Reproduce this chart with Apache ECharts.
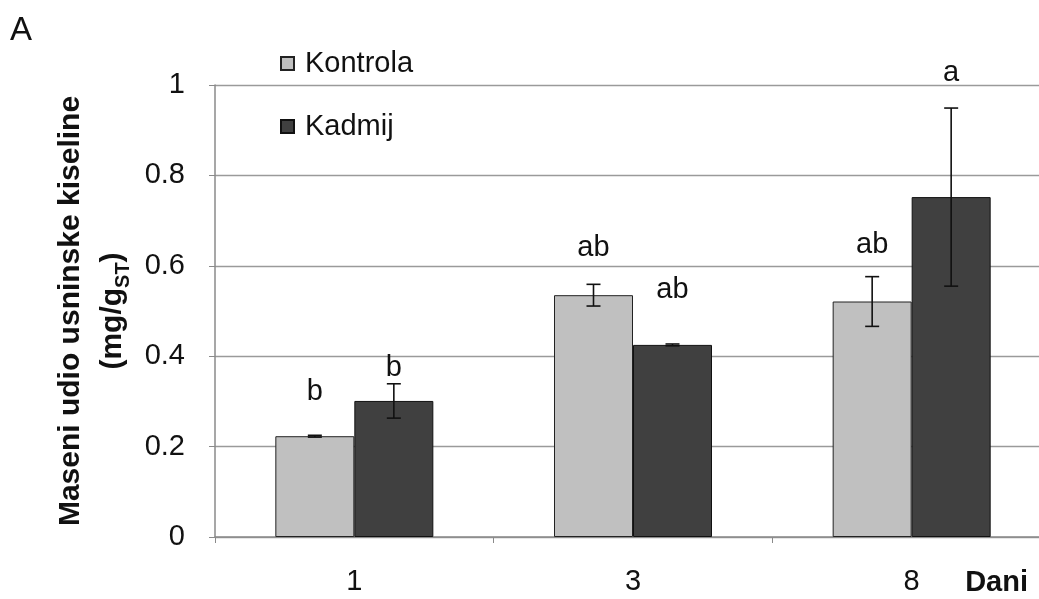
<!DOCTYPE html>
<html><head><meta charset="utf-8">
<script src="https://cdn.jsdelivr.net/npm/echarts@6/dist/echarts.min.js"></script>
<style>html,body{margin:0;padding:0;background:#fff;overflow:hidden}#c{width:1051px;height:599px}</style>
</head><body><div id="c"></div>
<script>
const days = ['1', '3', '8'];
const kontrola = [0.223, 0.535, 0.521];
const kontrolaErr = [0.002, 0.024, 0.055];
const kadmij = [0.301, 0.425, 0.752];
const kadmijErr = [0.038, 0.002, 0.197];
const kontrolaLetters = ['b', 'ab', 'ab'];
const kadmijLetters = ['b', 'ab', 'a'];
const kontrolaLetterY = [0.321, 0.639, 0.646];
const kadmijLetterY = [0.374, 0.546, 1.027];
const yTicks = [0, 0.2, 0.4, 0.6, 0.8, 1];

const BAR_W = 79;
const FONT = '"Liberation Sans", Arial, sans-serif';

function errRender(values, errs, dir) {
  return function (params, api) {
    const i = api.value(0);
    const v = values[i], e = errs[i];
    const base = api.coord([i, v]);
    const x = base[0] + dir * BAR_W / 2;
    const top = api.coord([i, v + e])[1];
    const bot = api.coord([i, v - e])[1];
    const cap = 7;
    const st = { stroke: '#111', lineWidth: 1.6 };
    return { type: 'group', children: [
      { type: 'line', shape: { x1: x, y1: top, x2: x, y2: bot }, style: st },
      { type: 'line', shape: { x1: x - cap, y1: top, x2: x + cap, y2: top }, style: st },
      { type: 'line', shape: { x1: x - cap, y1: bot, x2: x + cap, y2: bot }, style: st }
    ]};
  };
}
function letterRender(letters, ys, dir) {
  return function (params, api) {
    const i = api.value(0);
    const p = api.coord([i, ys[i]]);
    return { type: 'text', x: p[0] + dir * BAR_W / 2, y: p[1],
      style: { text: letters[i], font: '29px ' + FONT, fill: '#111', align: 'center', verticalAlign: 'middle' } };
  };
}

const chart = echarts.init(document.getElementById('c'));
chart.setOption({
  animation: false,
  backgroundColor: '#fff',
  title: { text: 'A', left: 5, top: 9, textStyle: { fontFamily: FONT, fontSize: 33, fontWeight: 'normal', color: '#111' } },
  legend: {
    orient: 'vertical', left: 275, top: 44, itemGap: 34,
    itemWidth: 13, itemHeight: 13, icon: 'rect',
    textStyle: { fontFamily: FONT, fontSize: 29, color: '#111', padding: [0, 0, 0, 6] },
    data: ['Kontrola', 'Kadmij']
  },
  grid: { left: 215, top: 85, right: 0, bottom: 62, containLabel: false },
  xAxis: {
    type: 'category', data: days,
    axisLine: { lineStyle: { color: '#8a8a8a', width: 1.5 } },
    axisTick: { show: true, length: 6, lineStyle: { color: '#8a8a8a' } },
    axisLabel: { fontFamily: FONT, fontSize: 29, color: '#111', margin: 30 },
    name: 'Dani', nameLocation: 'end', nameGap: -23,
    nameTextStyle: { fontFamily: FONT, fontSize: 29, fontWeight: 'bold', color: '#111', align: 'right', verticalAlign: 'top', padding: [31, 0, 0, 0] }
  },
  yAxis: {
    type: 'value', min: 0, max: 1, interval: 0.2,
    axisLine: { show: true, lineStyle: { color: '#8a8a8a', width: 1.5 } },
    axisTick: { show: true, length: 6, lineStyle: { color: '#8a8a8a' } },
    splitLine: { lineStyle: { color: '#9a9a9a', width: 1.3 } },
    axisLabel: { fontFamily: FONT, fontSize: 29, color: '#111', margin: 30,
      formatter: v => { const t = yTicks.find(x => Math.abs(x - v) < 1e-9); return t === undefined ? '' : String(t); } },
    name: 'Maseni udio usninske kiseline\n(mg/g{sub|ST})',
    nameLocation: 'middle', nameGap: 79, nameRotate: 90,
    nameTextStyle: { fontFamily: FONT, fontSize: 30, fontWeight: 'bold', color: '#111', lineHeight: 42,
      rich: { sub: { fontFamily: FONT, fontSize: 20, fontWeight: 'bold', color: '#111', verticalAlign: 'bottom', lineHeight: 28 } } }
  },
  series: [
    { name: 'Kontrola', type: 'bar', data: kontrola, barWidth: BAR_W, barGap: '0%',
      itemStyle: { color: '#c0c0c0', borderColor: '#222', borderWidth: 1 } },
    { name: 'Kadmij', type: 'bar', data: kadmij, barWidth: BAR_W, barGap: '0%',
      itemStyle: { color: '#404040', borderColor: '#111', borderWidth: 1 } },
    { type: 'custom', data: days.map((d, i) => [i]), renderItem: errRender(kontrola, kontrolaErr, -1), z: 5, silent: true },
    { type: 'custom', data: days.map((d, i) => [i]), renderItem: errRender(kadmij, kadmijErr, 1), z: 5, silent: true },
    { type: 'custom', data: days.map((d, i) => [i]), renderItem: letterRender(kontrolaLetters, kontrolaLetterY, -1), z: 6, silent: true, clip: false },
    { type: 'custom', data: days.map((d, i) => [i]), renderItem: letterRender(kadmijLetters, kadmijLetterY, 1), z: 6, silent: true, clip: false }
  ]
});
</script></body></html>
